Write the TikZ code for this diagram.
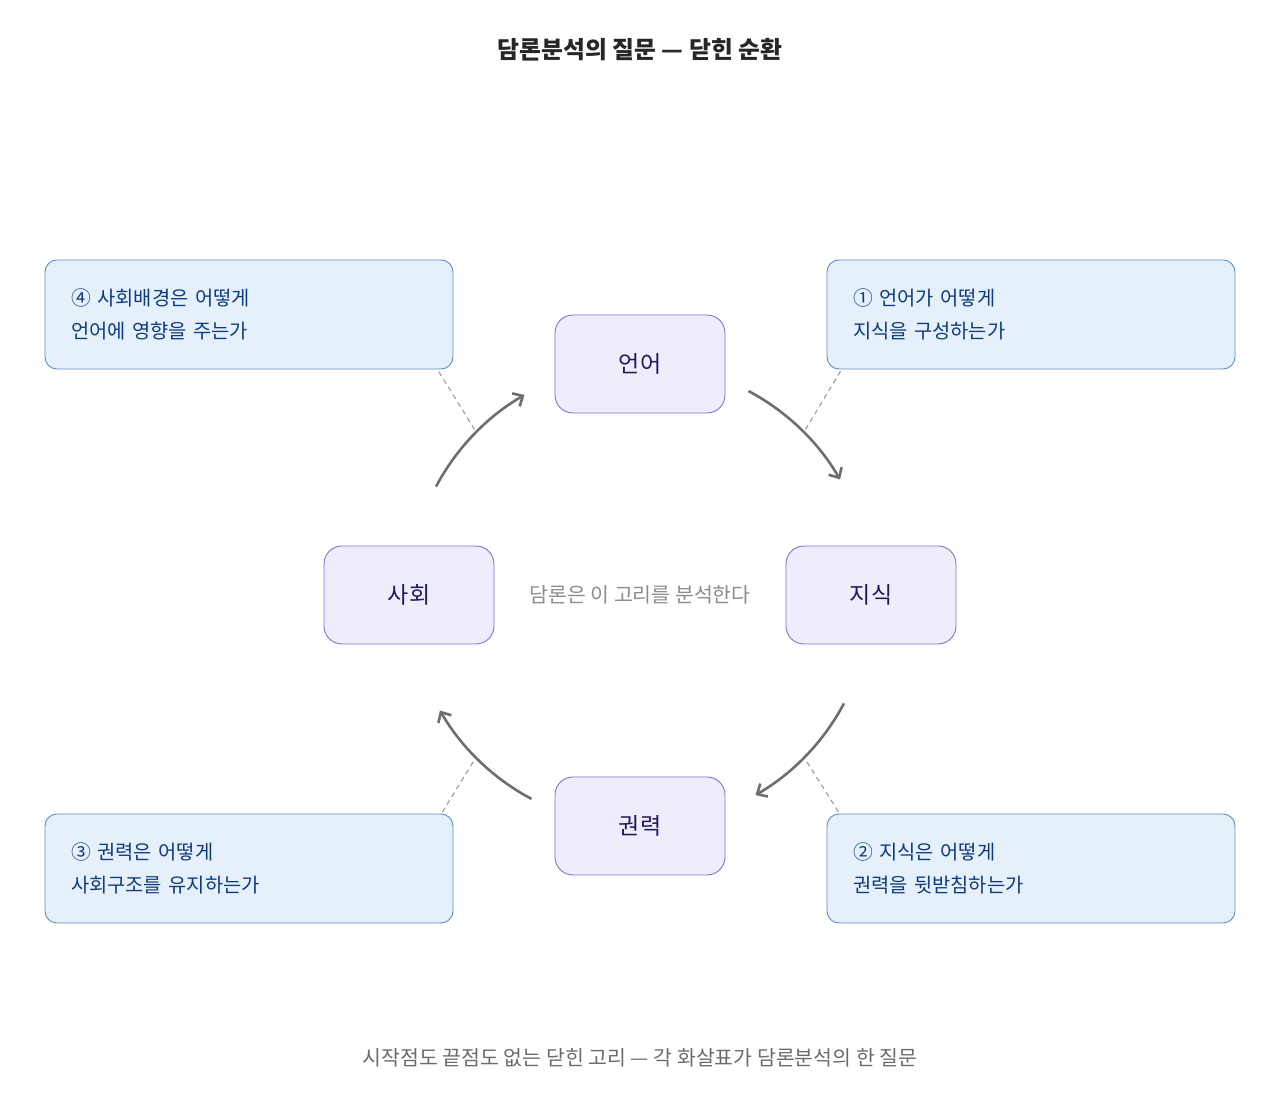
\documentclass[tikz,border=0pt]{standalone}
\usepackage{fontspec}
\setmainfont{Noto Sans CJK KR}
\usepackage{xcolor}
\usetikzlibrary{arrows.meta}
\usetikzlibrary{calc}
\definecolor{noeudfond}{HTML}{EEEDFC}
\definecolor{noeudbord}{HTML}{7F72D2}
\definecolor{noeudtexte}{HTML}{221A5E}
\definecolor{questfond}{HTML}{E5F0FB}
\definecolor{questbord}{HTML}{5B8DC8}
\definecolor{questtexte}{HTML}{0E3B7E}
\definecolor{fleche}{HTML}{6E6E6A}
\definecolor{pointille}{HTML}{9A9A9A}

\begin{document}
\begin{tikzpicture}[x=1pt,y=1pt,
  etape/.style={draw=noeudbord, fill=noeudfond, line width=0.9pt, rounded corners=18pt,
    minimum width=170pt, minimum height=98pt, text=noeudtexte, font=\fontsize{23}{27}\selectfont},
  question/.style={draw=questbord, fill=questfond, line width=0.9pt, rounded corners=12pt,
    text width=356pt, inner xsep=26pt, minimum height=109pt, align=left,
    text=questtexte, font=\fontsize{19.8}{33}\selectfont},
  tour/.style={draw=fleche, line width=2.6pt, -{Straight Barb[length=8pt,width=15pt]}},
  guide/.style={draw=pointille, line width=1.1pt, dash pattern=on 5pt off 4pt}]
\useasboundingbox (0,0) rectangle (1280,1102);
% titre
\node[font=\bfseries\fontsize{23.8}{28}\selectfont, text=black!85] (titre) at (640,1052) {담론분석의 질문 — 닫힌 순환};
% les quatre etapes
\coordinate (c) at (640,507);
\node[etape] (langue) at (640,738) {언어};
\node[etape] (savoir) at (871,507) {지식};
\node[etape] (pouvoir) at (640,276) {권력};
\node[etape] (societe) at (409,507) {사회};
\node[text=black!45, font=\fontsize{20.5}{24}\selectfont] (centre) at (c) {담론은 이 고리를 분석한다};
% questions
\node[question] (q1) at (1031,787.5) {① 언어가 어떻게\\지식을 구성하는가};
\node[question] (q2) at (1031,233.5) {② 지식은 어떻게\\권력을 뒷받침하는가};
\node[question] (q3) at (249,233.5) {③ 권력은 어떻게\\사회구조를 유지하는가};
\node[question] (q4) at (249,787.5) {④ 사회배경은 어떻게\\언어에 영향을 주는가};
% fleches du cycle
\draw[tour] ($(c)+(62:231)$) arc[start angle=62, end angle=30, radius=231];
\draw[tour] ($(c)+(-28:231)$) arc[start angle=-28, end angle=-60, radius=231];
\draw[tour] ($(c)+(-118:231)$) arc[start angle=-118, end angle=-150, radius=231];
\draw[tour] ($(c)+(152:231)$) arc[start angle=152, end angle=120, radius=231];
\coordinate (m1) at ($(c)+(45:234)$);
\coordinate (m2) at ($(c)+(-45:236)$);
\coordinate (m3) at ($(c)+(-135:236)$);
\coordinate (m4) at ($(c)+(135:234)$);
% pointilles
\draw[guide] (m1) -- ($(q1.south west)+(15,0)$);
\draw[guide] (m2) -- ($(q2.north west)+(13,0)$);
\draw[guide] (m3) -- ($(q3.north east)+(-12,0)$);
\draw[guide] (m4) -- ($(q4.south east)+(-16,0)$);
% legende
\node[text=black!58, font=\fontsize{20.5}{24}\selectfont] (legende) at (640,44) {시작점도 끝점도 없는 닫힌 고리 — 각 화살표가 담론분석의 한 질문};
\end{tikzpicture}
\end{document}
